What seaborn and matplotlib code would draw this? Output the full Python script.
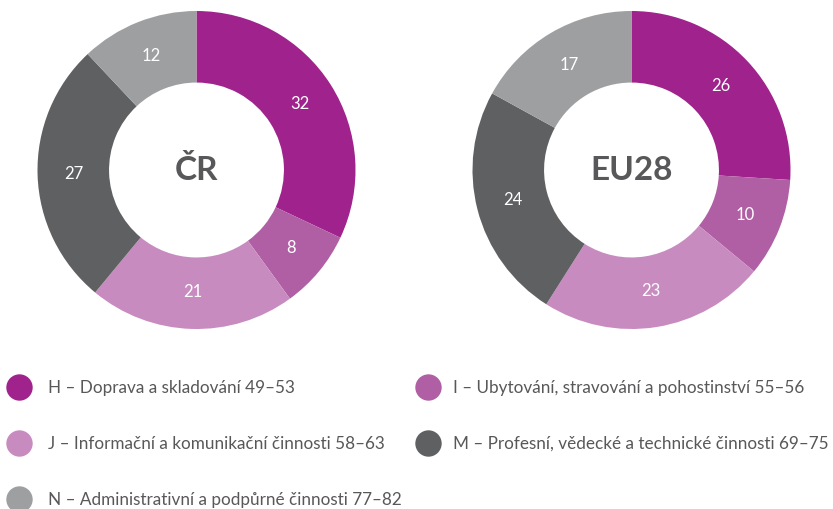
import matplotlib
matplotlib.use("Agg")
import matplotlib.pyplot as plt
from matplotlib.lines import Line2D
import seaborn as sns

# data
kategorie = [
    "H – Doprava a skladování 49–53",
    "I – Ubytování, stravování a pohostinství 55–56",
    "J – Informační a komunikační činnosti 58–63",
    "M – Profesní, vědecké a technické činnosti 69–75",
    "N – Administrativní a podpůrné činnosti 77–82",
]
hodnoty_cr = [32, 8, 21, 27, 12]
hodnoty_eu = [26, 10, 23, 24, 17]
nazvy = ["ČR", "EU28"]
barvy = ["#A0228C", "#B05FA4", "#C88BBF", "#5F6062", "#9E9FA1"]

sns.set_theme(style="white")
plt.rcParams["font.family"] = ["Lato", "DejaVu Sans"]
text_barva = "#58585A"

W, H = 833, 509
fig = plt.figure(figsize=(W / 100, H / 100), dpi=100)

R = 159
stredy = [(196.5, 170), (631.5, 170)]

for (cx, cy), hodnoty, nazev in zip(stredy, [hodnoty_cr, hodnoty_eu], nazvy):
    ax = fig.add_axes([(cx - R) / W, (H - cy - R) / H, 2 * R / W, 2 * R / H])
    celkem = sum(hodnoty)
    ax.pie(
        hodnoty,
        colors=barvy,
        startangle=90,
        counterclock=False,
        radius=1,
        wedgeprops=dict(width=0.45, edgecolor="none"),
        autopct=lambda p, c=celkem: f"{round(p * c / 100)}",
        pctdistance=0.77,
        textprops=dict(color="white", fontsize=12),
    )
    ax.text(0, 0, nazev, ha="center", va="center", fontsize=24,
            fontweight="bold", color=text_barva)
    ax.set_xlim(-1, 1)
    ax.set_ylim(-1, 1)
    ax.set_aspect("equal")
    ax.axis("off")

handles = [Line2D([], [], marker="o", linestyle="none", markersize=19,
                  markerfacecolor=b, markeredgecolor="none") for b in barvy]

# two legend columns: H, J, N on the left, I, M on the right
fs = 12.3
fs_px = fs * 100 / 72
sloupce = [([0, 2, 4], 19, 0.87), ([1, 3], 428, 0.64)]
for idx, xm, pad in sloupce:
    x0 = xm - 0.8 * fs_px
    leg = fig.legend([handles[i] for i in idx], [kategorie[i] for i in idx],
                     loc="upper left", bbox_to_anchor=(x0 / W, 1 - 380 / H),
                     frameon=False, fontsize=fs, labelspacing=2.33,
                     handletextpad=pad, handlelength=1.6,
                     borderaxespad=0, borderpad=0)
    for t in leg.get_texts():
        t.set_color(text_barva)

fig.savefig("out.png", dpi=100, facecolor="white")
